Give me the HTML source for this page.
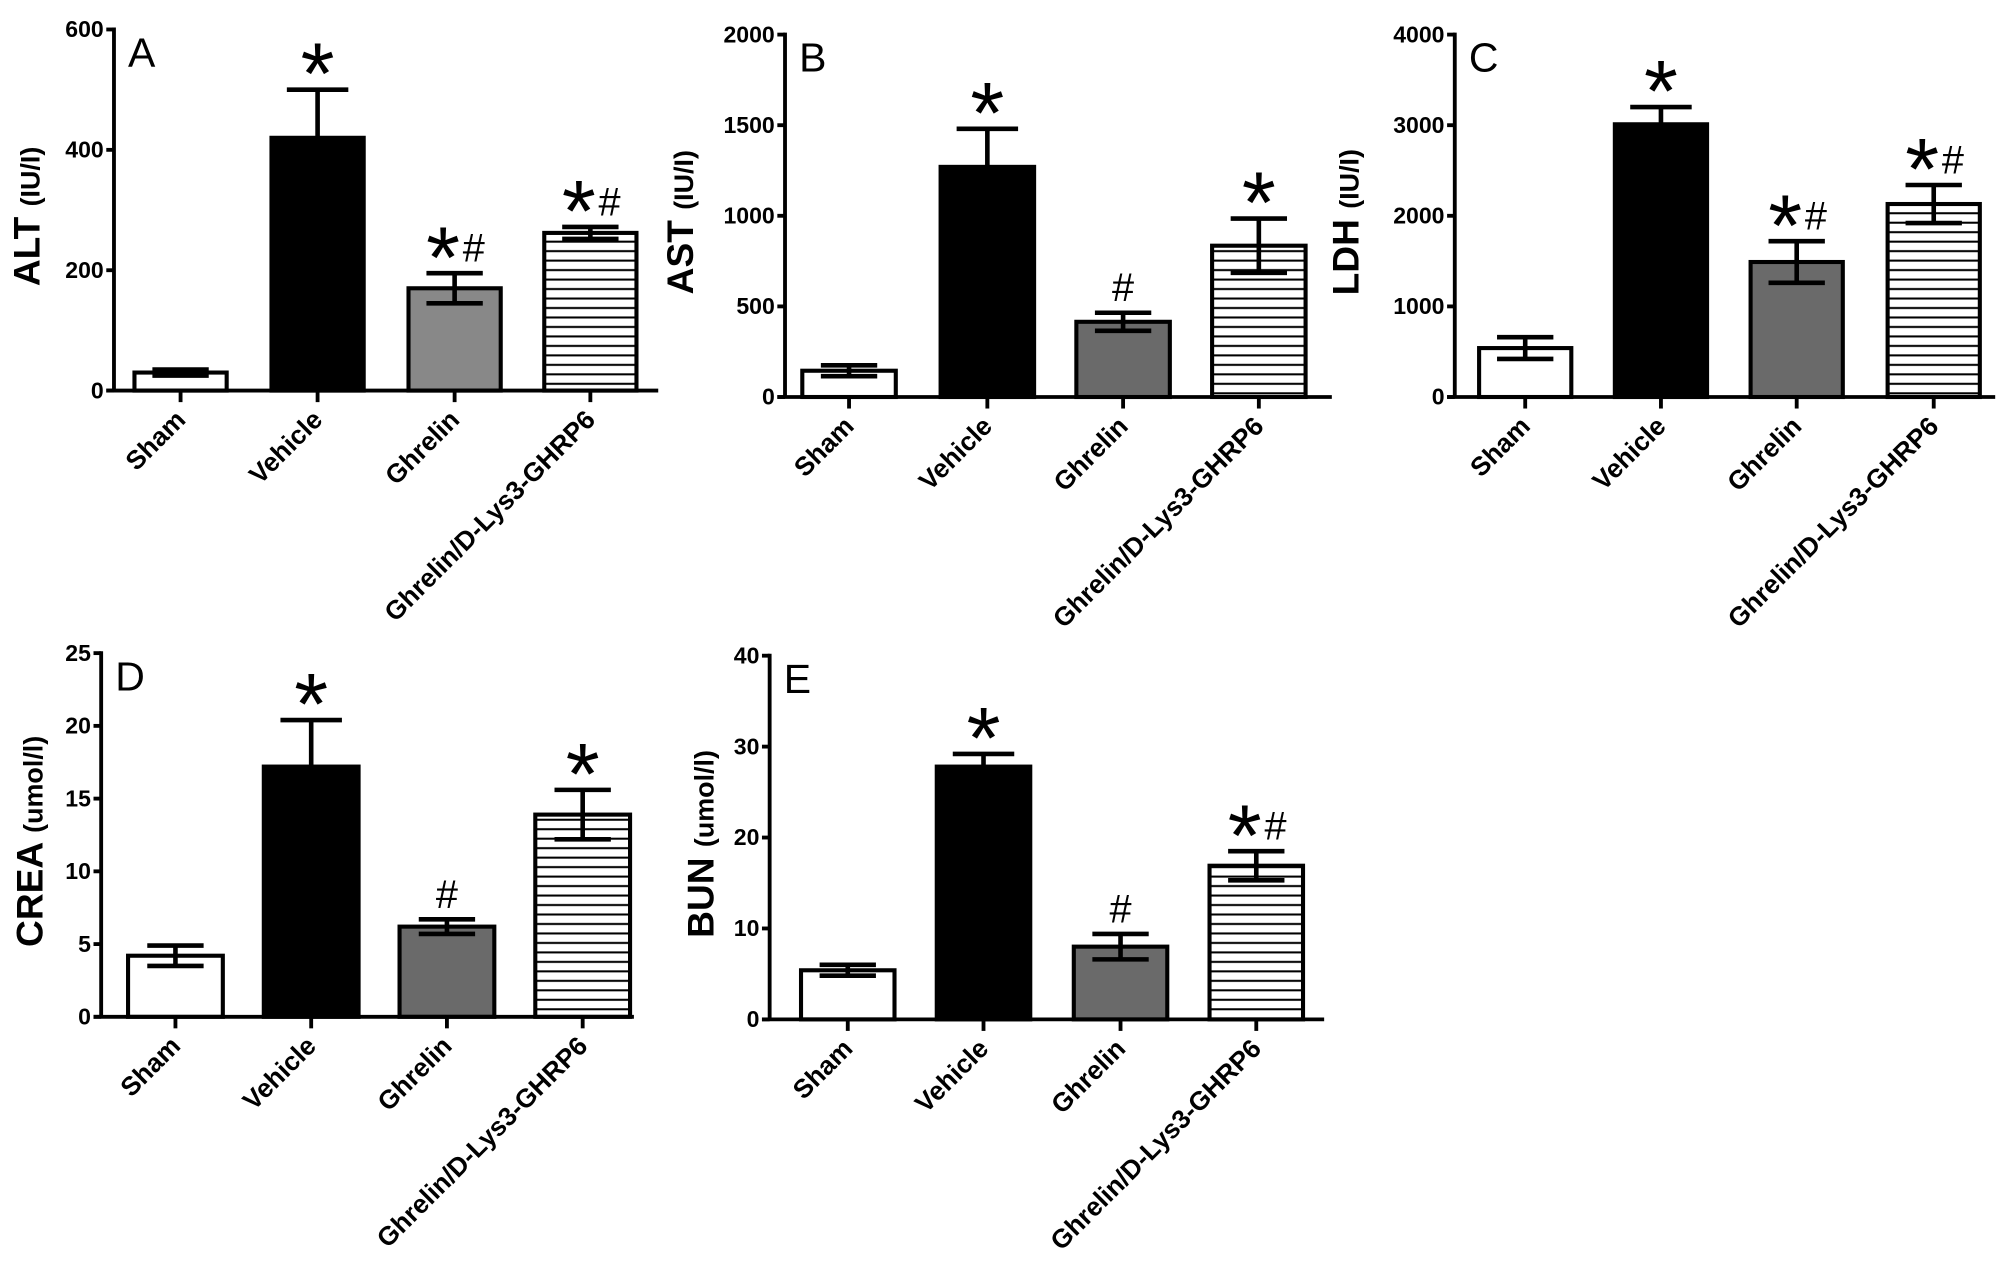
<!DOCTYPE html>
<html><head><meta charset="utf-8"><style>
html,body{margin:0;padding:0;background:#fff;}
svg{display:block;}
text{font-family:"Liberation Sans",sans-serif;}
</style></head><body>
<svg id="fig" width="2008" height="1285" viewBox="0 0 1568 1003.4" xmlns="http://www.w3.org/2000/svg">
<defs>
<pattern id="hatch" patternUnits="userSpaceOnUse" width="8" height="7.4">
<rect width="8" height="7.4" fill="#fff"/>
<line x1="0" y1="3.7" x2="8" y2="3.7" stroke="#000" stroke-width="1.6"/>
</pattern>
</defs>
</svg>
<script>
const categories = ["Sham","Vehicle","Ghrelin","Ghrelin/D-Lys3-GHRP6"];
const altValues = [30, 420, 170, 262];
const altErrors = [5, 80, 25, 10];
const altMarks = ["", "*", "*#", "*#"];
const altTicks = [0, 200, 400, 600];
const astValues = [145, 1270, 415, 835];
const astErrors = [30, 210, 50, 150];
const astMarks = ["", "*", "#", "*"];
const astTicks = [0, 500, 1000, 1500, 2000];
const ldhValues = [540, 3010, 1490, 2130];
const ldhErrors = [120, 190, 230, 210];
const ldhMarks = ["", "*", "*#", "*#"];
const ldhTicks = [0, 1000, 2000, 3000, 4000];
const creaValues = [4.2, 17.2, 6.2, 13.9];
const creaErrors = [0.7, 3.2, 0.5, 1.7];
const creaMarks = ["", "*", "#", "*"];
const creaTicks = [0, 5, 10, 15, 20, 25];
const bunValues = [5.4, 27.8, 8.0, 16.9];
const bunErrors = [0.6, 1.4, 1.4, 1.6];
const bunMarks = ["", "*", "#", "*#"];
const bunTicks = [0, 10, 20, 30, 40];

const NS = "http://www.w3.org/2000/svg";
const svg = document.getElementById('fig');
function mk(tag, attrs, parent){
  const e = document.createElementNS(NS, tag);
  for (const k in attrs) e.setAttribute(k, attrs[k]);
  (parent||svg).appendChild(e);
  return e;
}
const panels = [
  {id:'a', letter:'A', title:'ALT', unit:'(IU/I)', vals:altValues, errs:altErrors, marks:altMarks, ticks:altTicks,
   ax:89, y0:305, yTop:23, xEnd:514, centers:[141,248,355,461], bw:72, ghrelinFill:'#888', titleX:31},
  {id:'b', letter:'B', title:'AST', unit:'(IU/I)', vals:astValues, errs:astErrors, marks:astMarks, ticks:astTicks,
   ax:613, y0:310, yTop:27, xEnd:1040, centers:[663,771,877,983], bw:73, ghrelinFill:'#6a6a6a', titleX:541},
  {id:'c', letter:'C', title:'LDH', unit:'(IU/I)', vals:ldhValues, errs:ldhErrors, marks:ldhMarks, ticks:ldhTicks,
   ax:1136, y0:310, yTop:27, xEnd:1558, centers:[1191,1297,1403,1510], bw:72, ghrelinFill:'#6a6a6a', titleX:1061},
  {id:'d', letter:'D', title:'CREA', unit:'(umol/l)', vals:creaValues, errs:creaErrors, marks:creaMarks, ticks:creaTicks,
   ax:79, y0:794, yTop:510, xEnd:495, centers:[137,243,349,455], bw:74, ghrelinFill:'#6a6a6a', titleX:33},
  {id:'e', letter:'E', title:'BUN', unit:'(umol/l)', vals:bunValues, errs:bunErrors, marks:bunMarks, ticks:bunTicks,
   ax:601, y0:796, yTop:512, xEnd:1034, centers:[662,768,875,981], bw:73, ghrelinFill:'#6a6a6a', titleX:557},
];
panels.forEach(p => {
  const g = mk('g', {});
  
  
  const max = p.ticks[p.ticks.length-1];
  const y = v => p.y0 - (v / max) * (p.y0 - p.yTop);
  p.vals.forEach((v, i) => {
    const cx = p.centers[i];
    const fill = i===0 ? '#fff' : i===1 ? '#000' : i===2 ? p.ghrelinFill : 'url(#hatch)';
    const r = mk('rect', {x: cx - p.bw/2, y: y(v), width: p.bw, height: p.y0 - y(v), fill: fill, stroke:'#000', 'stroke-width':3.2}, g);
    
    
    const e = p.errs[i];
    const top = y(v + e), bot = y(v - e);
    const eb = mk('g', {stroke:'#000', 'stroke-width':3.6, fill:'none'}, g);
    
    
    if (i === 1) {
      mk('line', {x1:cx, y1:y(v), x2:cx, y2:top}, eb);
      mk('line', {x1:cx-24, y1:top, x2:cx+24, y2:top}, eb);
    } else {
      mk('line', {x1:cx, y1:bot, x2:cx, y2:top}, eb);
      mk('line', {x1:cx-22, y1:top, x2:cx+22, y2:top}, eb);
      mk('line', {x1:cx-22, y1:bot, x2:cx+22, y2:bot}, eb);
    }
    const m = p.marks[i];
    if (m) {
      const both = m.length === 2;
      if (m.indexOf('*') >= 0) {
        const s = mk('text', {x: both ? cx-9 : cx, y: top + 11, 'text-anchor':'middle', 'font-size':68}, g);
        
        
        s.textContent = '*';
      }
      if (m.indexOf('#') >= 0) {
        const h = mk('text', {x: both ? cx+15 : cx, y: top - 9, 'text-anchor':'middle', 'font-size':31}, g);
        
        
        h.textContent = '#';
      }
    }
  });
  const axes = mk('g', {stroke:'#000', 'stroke-width':3, fill:'none'}, g);
  
  
  mk('line', {x1:p.ax, y1:p.yTop-1.5, x2:p.ax, y2:p.y0}, axes);
  mk('line', {x1:p.ax-6, y1:p.y0, x2:p.xEnd, y2:p.y0}, axes);
  p.ticks.forEach(t => {
    mk('line', {x1:p.ax-6, y1:y(t), x2:p.ax, y2:y(t)}, axes);
    const tl = mk('text', {x:p.ax-8, y:y(t)+6, 'text-anchor':'end', 'font-size':18, 'font-weight':'bold', 'font-family':'"Liberation Sans Narrow","Liberation Sans",sans-serif'}, g);
    
    
    tl.textContent = t;
  });
  p.centers.forEach((cx, i) => {
    mk('line', {x1:cx, y1:p.y0, x2:cx, y2:p.y0+9}, axes);
    const ty = p.y0 + 24;
    const cl = mk('text', {x:cx+5, y:ty, 'text-anchor':'end', 'font-size':20.5, 'font-weight':'bold', transform:'rotate(-45 '+(cx+5)+' '+ty+')'}, g);
    
    
    cl.textContent = categories[i];
  });
  const lt = mk('text', {x:p.ax+11, y:p.yTop+29, 'font-size':32}, g);
  
  
  lt.textContent = p.letter;
  const cy = (p.y0 + p.yTop)/2 + 5;
  const yt = mk('text', {x:p.titleX, y:cy, 'text-anchor':'middle', 'font-weight':'bold', transform:'rotate(-90 '+p.titleX+' '+cy+')'}, g);
  
  
  const t1 = mk('tspan', {'font-size':29}, yt); t1.textContent = p.title + '  ';
  const t2 = mk('tspan', {'font-size':21}, yt); t2.textContent = p.unit;
});
</script>
</body></html>
